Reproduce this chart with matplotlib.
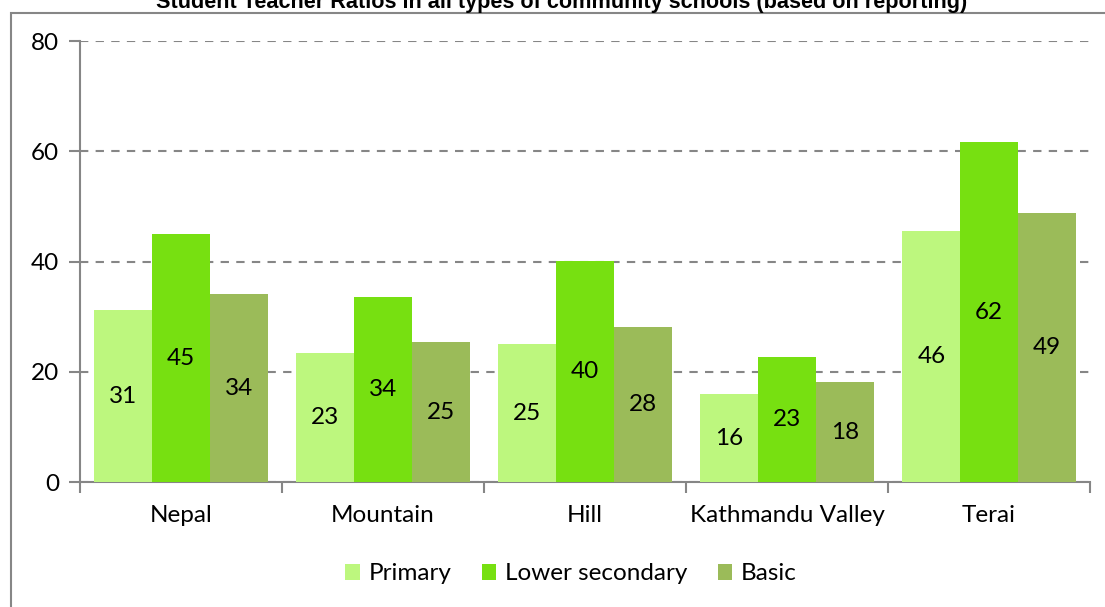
import numpy as np
import matplotlib.pyplot as plt
from matplotlib.patches import Rectangle, Patch

# student teacher ratios
regions = ['Nepal', 'Mountain', 'Hill', 'Kathmandu Valley', 'Terai']
primary = [31.2, 23.4, 25.0, 16.0, 45.6]
lower_secondary = [45.0, 33.6, 40.1, 22.7, 61.7]
basic = [34.1, 25.4, 28.1, 18.1, 48.8]

series_names = ['Primary', 'Lower secondary', 'Basic']
colors = ['#BDF77E', '#77E011', '#9BBB59']
y_ticks = [0, 20, 40, 60, 80]

title = 'Student Teacher Ratios in all types of community schools (based on reporting)'

plt.rcParams['font.family'] = ['Lato', 'DejaVu Sans']
W, H = 1105, 607
fs = 17.5
fig = plt.figure(figsize=(W / 100, H / 100), dpi=100)

# outer chart border (runs off the right and bottom of the picture)
fig.add_artist(Rectangle((11 / W, -0.2), 1.5, 0.2 + (H - 13) / H, transform=fig.transFigure,
                         fill=False, edgecolor='#868686', linewidth=1.5))

fig.text(562 / W, (H - 8) / H, title, ha='center', va='baseline', fontsize=15.6,
         fontweight='bold', family=['Liberation Sans Narrow', 'Liberation Sans', 'DejaVu Sans'])

ax = fig.add_axes([80 / W, (H - 482.3) / H, 1010 / W, 441.3 / H])

x = np.arange(len(regions))
bar_w = 0.2855
all_series = [primary, lower_secondary, basic]
for i, vals in enumerate(all_series):
    pos = x + (i - 1) * bar_w
    ax.bar(pos, vals, width=bar_w, color=colors[i], label=series_names[i], zorder=3)
    for p, v in zip(pos, vals):
        ax.text(p, v / 2, '%d' % round(v), ha='center', va='center', fontsize=fs,
                color='black', zorder=4)

ax.set_xlim(-0.5, len(regions) - 0.5)
ax.set_ylim(0, 80)
ax.set_yticks(y_ticks)
ax.set_yticklabels([str(t) for t in y_ticks], fontsize=fs)
ax.yaxis.grid(True, linestyle=(0, (4, 3.5)), color='#868686', linewidth=1.5, zorder=1)
ax.set_axisbelow(True)

# category ticks sit on boundaries, labels at centres
ax.set_xticks(np.arange(len(regions) + 1) - 0.5)
ax.set_xticklabels([])
ax.set_xticks(x, minor=True)
ax.set_xticklabels(regions, minor=True, fontsize=fs)
ax.tick_params(axis='x', which='minor', length=0, pad=16)
ax.tick_params(axis='x', which='major', length=8, width=1.5, color='#868686', direction='out')
ax.tick_params(axis='y', length=8, width=1.5, color='#868686', pad=7)

for s in ['top', 'right']:
    ax.spines[s].set_visible(False)
for s in ['left', 'bottom']:
    ax.spines[s].set_color('#868686')
    ax.spines[s].set_linewidth(1.5)

handles = [Patch(facecolor=c, edgecolor='none') for c in colors]
fig.legend(handles, series_names, loc='center', bbox_to_anchor=(571 / W, (H - 574) / H),
           ncol=3, frameon=False, fontsize=fs, handlelength=0.6, handleheight=0.6,
           handletextpad=0.35, columnspacing=1.25)

fig.savefig('out.png', dpi=100)
